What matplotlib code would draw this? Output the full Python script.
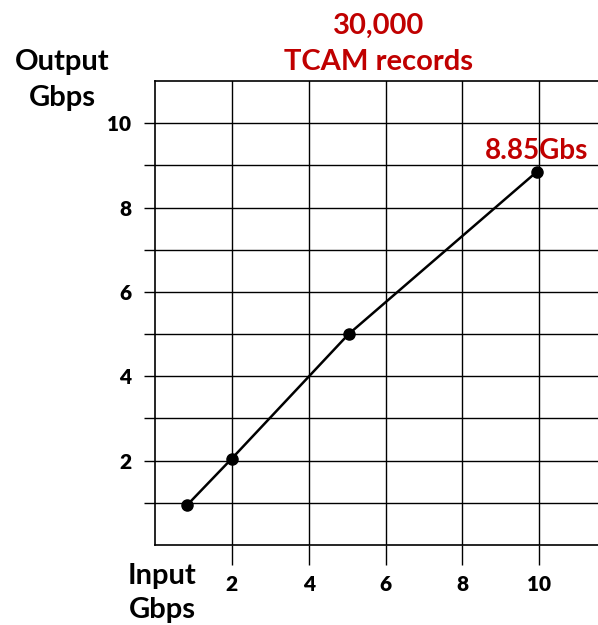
import matplotlib
matplotlib.use("Agg")
import matplotlib.pyplot as plt
from matplotlib.ticker import FixedLocator

# data
input_gbps = [0.84, 2.0, 5.04, 9.94]
output_gbps = [0.95, 2.05, 5.0, 8.85]
x_ticks = [2, 4, 6, 8, 10]
y_ticks = list(range(1, 11))
y_labels = [str(v) if v % 2 == 0 else "" for v in y_ticks]
peak_label = "8.85Gbs"

RED = "#C00000"
plt.rcParams["font.family"] = ["Lato", "DejaVu Sans"]
plt.rcParams["font.weight"] = "bold"

W, H = 598, 625
fig = plt.figure(figsize=(W / 100, H / 100), dpi=100)
ax = fig.add_axes([155 / W, (H - 545) / H, (W - 155) / W, (545 - 81) / H])

ax.plot(input_gbps, output_gbps, color="black", linewidth=1.8,
        marker="o", markersize=8, zorder=5, clip_on=False)

ax.set_xlim(0, 11.53)
ax.set_ylim(0, 11)

ax.xaxis.set_major_locator(FixedLocator(x_ticks))
ax.set_xticklabels([str(v) for v in x_ticks])
ax.yaxis.set_major_locator(FixedLocator(y_ticks))
ax.set_yticklabels(y_labels)

ax.tick_params(axis="x", direction="out", length=14.5, width=1.0,
               pad=7, labelsize=15)
ax.tick_params(axis="y", direction="out", length=8, width=1.0,
               pad=9, labelsize=15)
for lab in ax.get_xticklabels() + ax.get_yticklabels():
    lab.set_fontweight("heavy")

ax.grid(True, color="black", linewidth=1.0)
ax.spines["right"].set_visible(False)
for s in ("left", "top", "bottom"):
    ax.spines[s].set_linewidth(1.2)

ax.annotate(peak_label, xy=(input_gbps[-1], output_gbps[-1]),
            xytext=(0, 15), textcoords="offset points",
            ha="center", va="center", color=RED,
            fontsize=20, fontweight="bold")

fig.text(379 / W, 1 - 44 / H, "30,000\nTCAM records", color=RED,
         ha="center", va="center", fontsize=21, fontweight="bold",
         linespacing=1.5)
fig.text(62 / W, 1 - 80 / H, "Output\nGbps", ha="center", va="center",
         fontsize=21, fontweight="bold", linespacing=1.5)
fig.text(162 / W, 1 - 593 / H, "Input\nGbps", ha="center", va="center",
         fontsize=21, fontweight="bold", linespacing=1.4)

fig.savefig("out.png", dpi=100)
